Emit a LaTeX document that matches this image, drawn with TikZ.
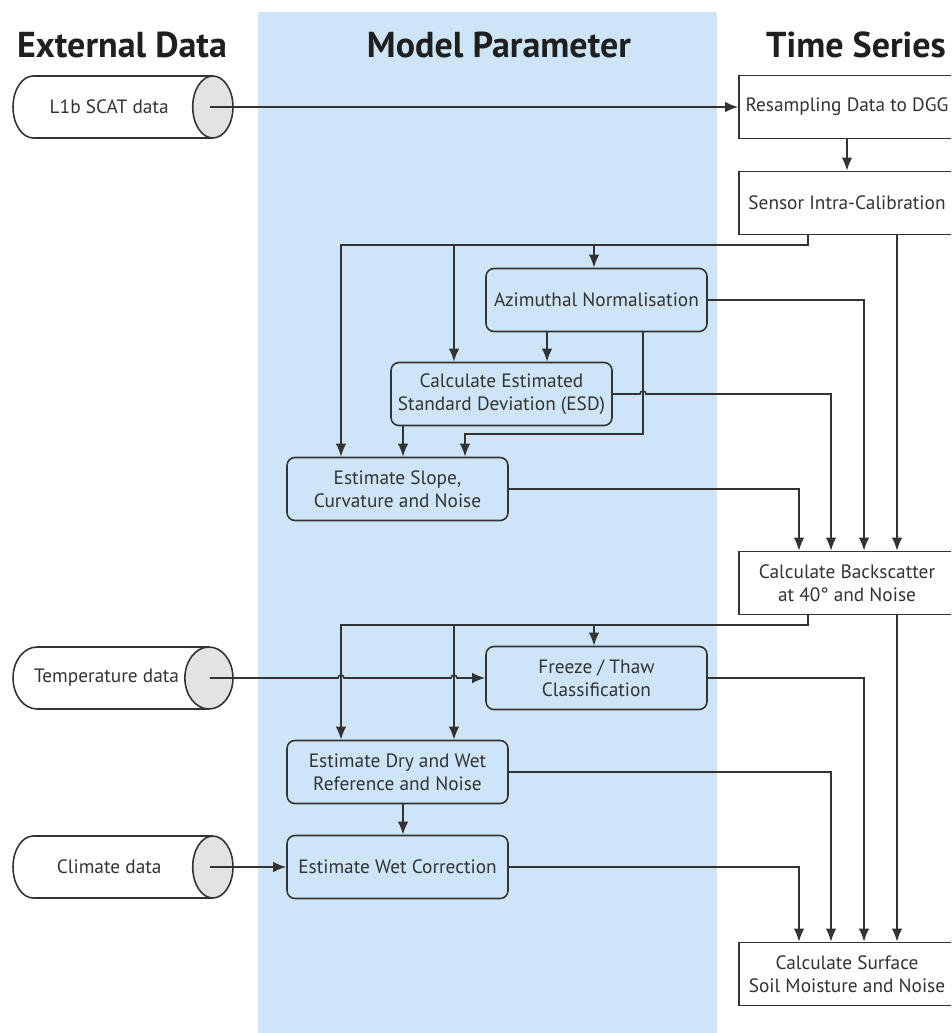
\documentclass[tikz,border=0pt]{standalone}
\usepackage{fontspec}
\setmainfont{PT Sans}
\usetikzlibrary{arrows.meta,shapes.geometric,calc}

\definecolor{bandblue}{HTML}{CDE5F6}
\definecolor{inkgray}{HTML}{333333}
\definecolor{capgray}{HTML}{E3E3E3}

\tikzset{
  proc/.style={draw=inkgray, fill=bandblue, rounded corners=4.5pt,
    minimum width=4.42cm, minimum height=1.26cm, align=center, inner sep=1pt},
  series/.style={draw=inkgray, fill=white,
    minimum width=4.32cm, minimum height=1.26cm, align=center, inner sep=1pt},
  store/.style={cylinder, shape border rotate=0, draw=inkgray,
    cylinder uses custom fill, cylinder body fill=white, cylinder end fill=capgray,
    minimum width=1.24cm, minimum height=4.4cm, shape aspect=2.3, inner sep=1pt},
  flow/.style={draw=inkgray, -{Latex[length=7.5pt,width=6pt]}},
  head/.style={font=\fontsize{20.5}{22}\selectfont\bfseries, text=black!88}
}

\begin{document}
\begin{tikzpicture}[x=0.02cm, y=-0.02cm, line width=0.9pt,
    every node/.style={font=\fontsize{11}{13}\selectfont, text=inkgray}]
  \clip (0,0) rectangle (951,1033);
  \fill[bandblue] (258,12) rectangle (717,1033);

  % column headings
  \node[head] (hext) at (122,45) {External Data};
  \node[head] (hmod) at (499,45) {Model Parameter};
  \node[head] (hts) at (856,45) {Time Series};

  % external data
  \node[store, anchor=shape center] (l1b) at (123,107) {L1b SCAT data};
  \node[store, anchor=shape center] (temp) at (123,678) {Temperature data};
  \node[store, anchor=shape center] (clim) at (123,867) {Climate data};

  % time series
  \node[series] (resamp) at (847,107) {Resampling Data to DGG};
  \node[series] (sensor) at (847,203) {Sensor Intra-Calibration};
  \node[series] (backsc) at (847,583) {Calculate Backscatter\\at 40° and Noise};
  \node[series] (surf) at (847,974) {Calculate Surface\\Soil Moisture and Noise};

  % model parameters
  \node[proc] (azim) at (596.5,300) {Azimuthal Normalisation};
  \node[proc] (esd) at (501.5,394) {Calculate Estimated\\Standard Deviation (ESD)};
  \node[proc] (slope) at (397.5,489) {Estimate Slope,\\Curvature and Noise};
  \node[proc] (frz) at (596.5,678) {Freeze / Thaw\\Classification};
  \node[proc] (drywet) at (397.5,772) {Estimate Dry and Wet\\Reference and Noise};
  \node[proc] (wetcor) at (397.5,867) {Estimate Wet Correction};

  % columns and buses
  \coordinate (ca) at (341,0);
  \coordinate (cb) at (454,0);
  \coordinate (cc) at (594,0);
  \coordinate (cs) at (808,0);
  \coordinate (cd) at (799,0);
  \coordinate (ce) at (831,0);
  \coordinate (cf) at (864,0);
  \coordinate (cg) at (897,0);
  \coordinate (cl) at (403,0);
  \coordinate (cm) at (465,0);
  \coordinate (cn) at (547,0);
  \coordinate (co) at (643,0);
  \coordinate (bus1) at (0,245);
  \coordinate (bus2) at (0,625);
  \coordinate (bus3) at (0,434);

  \draw[flow] ([xshift=-0.48cm]l1b.top) -- (resamp.west);
  \draw[flow] (resamp.south) -- (sensor.north);

  \draw[flow] (sensor.south -| cs) |- (bus1 -| ca) -- (slope.north -| ca);
  \draw[flow] (bus1 -| cb) -- (esd.north -| cb);
  \draw[flow] (bus1 -| cc) -- (azim.north -| cc);
  \draw[flow] (sensor.south -| cg) -- (backsc.north -| cg);

  \draw[flow] (azim.east) -| (backsc.north -| cf);
  \draw[flow] (azim.south -| cn) -- (esd.north -| cn);
  \draw[flow] (azim.south -| co) |- (bus3 -| cm) -- (slope.north -| cm);
  \draw[flow] (esd.east) -- ($(esd.east -| co)+(-3,0)$)
    arc[start angle=180, end angle=360, radius=3] -| (backsc.north -| ce);
  \draw[flow] (esd.south -| cl) -- (slope.north -| cl);
  \draw[flow] (slope.east) -| (backsc.north -| cd);

  \draw[flow] (backsc.south -| cs) |- (bus2 -| ca) -- (drywet.north -| ca);
  \draw[flow] (bus2 -| cb) -- (drywet.north -| cb);
  \draw[flow] (bus2 -| cc) -- (frz.north -| cc);
  \draw[flow] (backsc.south -| cg) -- (surf.north -| cg);

  \draw[flow] ([xshift=-0.48cm]temp.top) -- ($(frz.west -| ca)+(-3,0)$)
    arc[start angle=180, end angle=360, radius=3]
    -- ($(frz.west -| cb)+(-3,0)$)
    arc[start angle=180, end angle=360, radius=3] -- (frz.west);
  \draw[flow] (frz.east) -| (surf.north -| cf);
  \draw[flow] (drywet.east) -| (surf.north -| ce);
  \draw[flow] (drywet.south -| cl) -- (wetcor.north -| cl);
  \draw[flow] ([xshift=-0.48cm]clim.top) -- (wetcor.west);
  \draw[flow] (wetcor.east) -| (surf.north -| cd);
\end{tikzpicture}
\end{document}
